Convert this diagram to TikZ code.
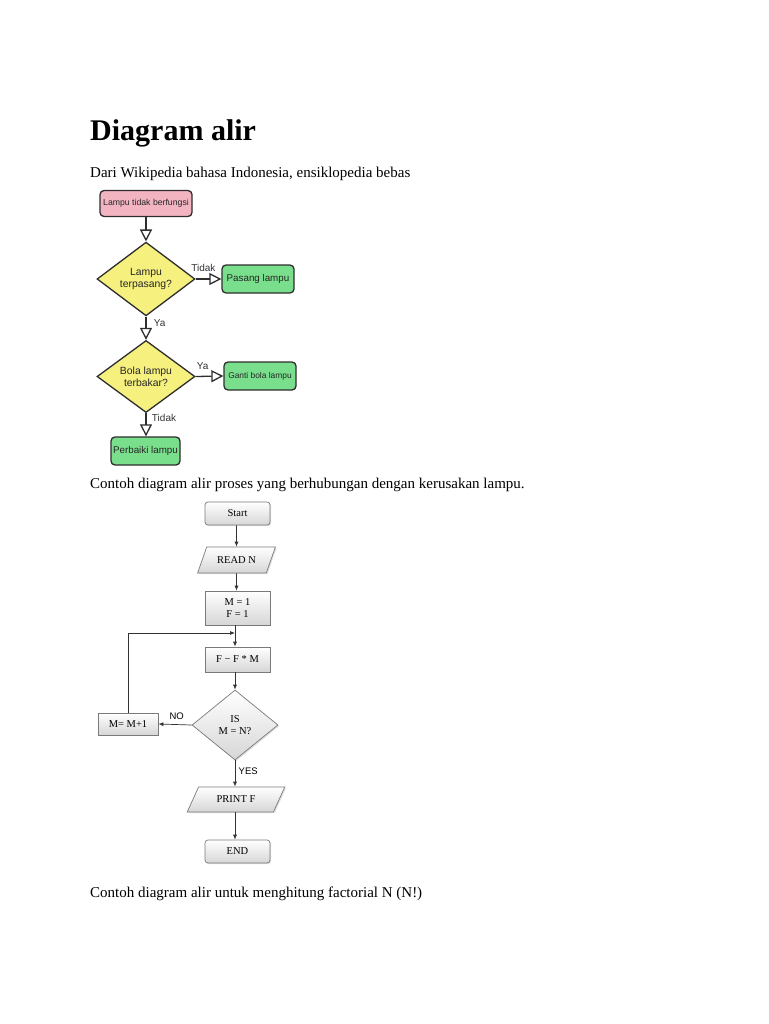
\documentclass[tikz,border=0pt]{standalone}
\usepackage{fontspec}
\setmainfont{Liberation Serif}
\newfontfamily\arialf{Liberation Sans}
\usetikzlibrary{shapes.geometric,arrows.meta,shadows}
\definecolor{pinkf}{HTML}{F3B4C2}
\definecolor{yelf}{HTML}{F6F07E}
\definecolor{grnf}{HTML}{7ADF8C}
\definecolor{bord}{HTML}{2E2E2E}
\definecolor{gbord}{HTML}{7A7A7A}
\tikzset{
  fs/.style={font=\arialf\fontsize{#1}{#1}\selectfont},
  rbox/.style={draw=bord, line width=1.3pt, rounded corners=4pt, align=center, inner sep=1pt, text=black!85},
  dia/.style={diamond, draw=bord, line width=1.3pt, fill=yelf, align=center, inner sep=0pt, fs=10.4, text=black!85},
  oarr/.style={draw=bord, line width=1.3pt, -{Triangle[open, length=12pt, width=12pt]}},
  lab/.style={fs=10, text=black!80},
  gbox/.style={draw=gbord, line width=0.7pt, top color=white, bottom color=black!16, drop shadow={opacity=0.25, shadow xshift=1.2pt, shadow yshift=-1.2pt}, align=center, minimum width=65pt, font=\fontsize{10.5}{12}\selectfont},
  gpar/.style={gbox, trapezium, trapezium left angle=63, trapezium right angle=117, trapezium stretches=true},
  garr/.style={draw=black!80, line width=0.7pt, -{Latex[length=5pt, width=4pt]}},
  glab/.style={font=\arialf\fontsize{9.5}{9.5}\selectfont},
  body/.style={anchor=base west, inner sep=0pt, font=\fontsize{15}{17}\selectfont}
}
\begin{document}
\begin{tikzpicture}[x=1pt, y=-1pt]
\useasboundingbox (0,0) rectangle (768,1024);
\fill[white] (0,0) rectangle (768,1024);
% texts
\node[body, font=\bfseries\fontsize{30}{34}\selectfont] (title) at (90,141) {Diagram alir};
\node[body] (sub) at (90,178) {Dari Wikipedia bahasa Indonesia, ensiklopedia bebas};
\node[body] (cap1) at (90,488) {Contoh diagram alir proses yang berhubungan dengan kerusakan lampu.};
\node[body] (cap2) at (90,897) {Contoh diagram alir untuk menghitung factorial N (N!)};
% flowchart 1
\node[rbox, fill=pinkf, minimum width=92pt, minimum height=26pt, fs=8.7] (a) at (146,203.5) {Lampu tidak berfungsi};
\node[dia, minimum width=98pt, minimum height=67pt] (d1) at (146,279) {Lampu\\[2pt]terpasang?};
\node[rbox, fill=grnf, minimum width=72pt, minimum height=28pt, fs=9.8] (p) at (258,279) {Pasang lampu};
\node[dia, minimum width=98pt, minimum height=67pt] (d2) at (146,376.5) {Bola lampu\\[2pt]terbakar?};
\node[rbox, fill=grnf, minimum width=72pt, minimum height=28pt, fs=8.4] (g) at (260,376) {Ganti bola lampu};
\node[rbox, fill=grnf, minimum width=69pt, minimum height=28pt, fs=9.8] (pl) at (145.5,451) {Perbaiki lampu};
\draw[oarr] (a) -- (d1);
\draw[oarr] (d1) -- (p) node[lab, pos=0.3, above=3pt] (t1) {Tidak};
\draw[oarr] (d1) -- (d2) node[lab, pos=0.3, right=4pt] (y1) {Ya};
\draw[oarr] (d2.east) -- (g.west) node[lab, pos=0.25, above=3pt] (y2) {Ya};
\draw[oarr] (d2.south) -- (pl.north -| d2.south) node[lab, pos=0.2, right=2pt] (t2) {Tidak};
% flowchart 2
\node[gbox, rounded corners=3pt, minimum height=23pt] (s) at (237.5,513.5) {Start};
\node[gpar, minimum width=78pt, minimum height=26pt] (r) at (236.5,560) {READ N};
\node[gbox, minimum height=34pt] (m) at (237.5,608) {M = 1\\F = 1};
\node[gbox, minimum height=25pt] (f) at (237.5,659.5) {F \textminus{} F * M};
\node[gbox, diamond, minimum width=86pt, minimum height=70pt, inner sep=0pt] (q) at (235,725) {IS\\M = N?};
\node[gbox, minimum width=60pt, minimum height=22pt] (mm) at (128,724) {M= M+1};
\node[gpar, minimum width=98pt, minimum height=25pt] (pf) at (236,799.5) {PRINT F};
\node[gbox, rounded corners=3pt, minimum height=23pt] (e) at (237.5,851.5) {END};
\coordinate (j) at (235,633);
\draw[garr] (s.south -| r.center) -- (r);
\draw[garr] (r) -- (r |- m.north);
\draw[garr] (m.south -| q.north) -- (q.north |- f.north);
\draw[garr] (f.south -| q.north) -- (q.north);
\draw[garr] (q.west) -- (mm.east) node[glab, pos=0.45, above=1pt] (no) {NO};
\draw[garr] (mm.north) |- (j);
\draw[garr] (q.south) -- (q.south |- pf.north) node[glab, pos=0.42, right=0pt] (yes) {YES};
\draw[garr] (pf.south -| q.south) -- (q.south |- e.north);
\end{tikzpicture}
\end{document}
